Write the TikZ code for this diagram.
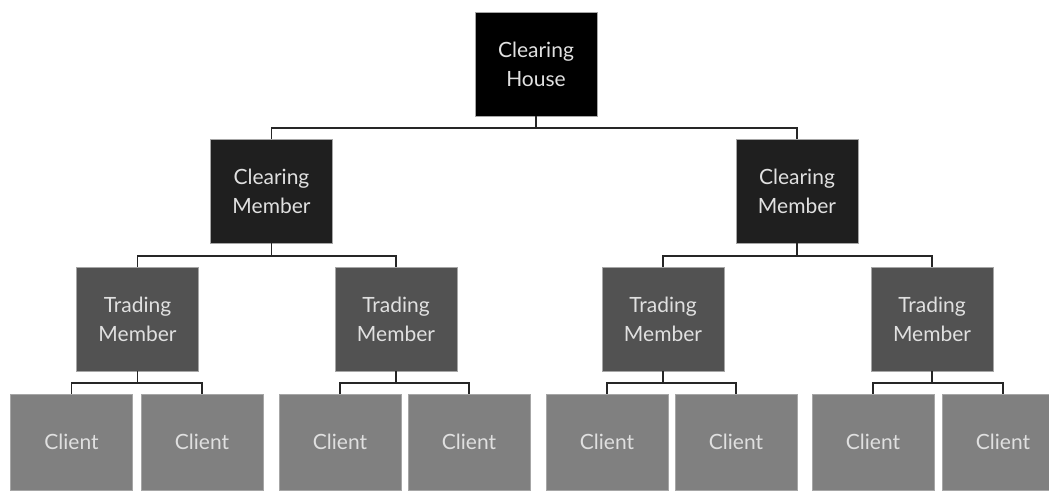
\documentclass[tikz,border=0pt]{standalone}
\usepackage{fontspec}
\setmainfont{Lato}
\usetikzlibrary{positioning}

\tikzset{
  unit/.style={minimum width=122pt, minimum height=104pt, inner sep=0pt, align=center,
    text=white!88!black, font=\fontsize{21}{29}\selectfont, draw=black!35, line width=0.5pt},
  house/.style={unit, fill=black},
  clearing/.style={unit, fill=black!88},
  trading/.style={unit, fill=black!68},
  client/.style={unit, fill=black!50, minimum height=96pt},
  link/.style={line width=1.6pt, black!85},
}

\begin{document}
\begin{tikzpicture}[x=1pt, y=1pt]
            \useasboundingbox (0,0) rectangle (1049,490);

            \node (CH) [house] at (536,426) {Clearing\\House};
            \node (CM1) [clearing] at (271.5,299) {Clearing\\Member};
            \node (CM2) [clearing] at (797,299) {Clearing\\Member};
            \node (TM1) [trading] at (137.5,171) {Trading\\Member};
            \node (TM2) [trading] at (396,171) {Trading\\Member};
            \node (TM3) [trading] at (663,171) {Trading\\Member};
            \node (TM4) [trading] at (932,171) {Trading\\Member};
            \node (C1) [client] at (71.5,48) {Client};
            \node (C2) [client] at (202,48) {Client};
            \node (C3) [client] at (340,48) {Client};
            \node (C4) [client] at (469,48) {Client};
            \node (C5) [client] at (607,48) {Client};
            \node (C6) [client] at (736,48) {Client};
            \node (C7) [client] at (873,48) {Client};
            \node (C8) [client] at (1003,48) {Client};

            \draw[link] (CH.south) -- ++(0,-12) -| (CM1.north) (CH.south) -- ++(0,-12) -| (CM2.north);
            \draw[link] (CM1.south) -- ++(0,-13) -| (TM1.north) (CM1.south) -- ++(0,-13) -| (TM2.north);
            \draw[link] (CM2.south) -- ++(0,-13) -| (TM3.north) (CM2.south) -- ++(0,-13) -| (TM4.north);
            \draw[link] (TM1.south) -- ++(0,-12) -| (C1.north) (TM1.south) -- ++(0,-12) -| (C2.north);
            \draw[link] (TM2.south) -- ++(0,-12) -| (C3.north) (TM2.south) -- ++(0,-12) -| (C4.north);
            \draw[link] (TM3.south) -- ++(0,-12) -| (C5.north) (TM3.south) -- ++(0,-12) -| (C6.north);
            \draw[link] (TM4.south) -- ++(0,-12) -| (C7.north) (TM4.south) -- ++(0,-12) -| (C8.north);
        \end{tikzpicture}
\end{document}
